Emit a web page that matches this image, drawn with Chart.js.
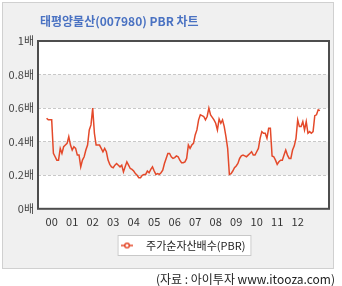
<!DOCTYPE html>
<html>
<head>
<meta charset="utf-8">
<script src="https://cdn.jsdelivr.net/npm/chart.js@4/dist/chart.umd.min.js"></script>
<style>
  body { margin: 0; background: #fff; }
  #wrap { width: 342px; height: 286px; }
</style>
</head>
<body>
<div id="wrap"><canvas id="pbrChart" width="342" height="286"></canvas></div>
<script>
// ---- data ----
const titleText = '태평양물산(007980) PBR 차트';
const sourceText = '(자료 : 아이투자 www.itooza.com)';
const seriesName = '주가순자산배수(PBR)';

// monthly PBR, starting 1999-10
const startYear = 1999;
const startMonth = 10;
const pbr = [
    0.54, 0.53, 0.53, 0.53, 0.33, 0.31, 0.29, 0.29, 0.36, 0.33,
    0.37, 0.38, 0.39, 0.43, 0.38, 0.35, 0.37, 0.36, 0.32, 0.32,
    0.25, 0.29, 0.31, 0.35, 0.38, 0.47, 0.50, 0.60, 0.45, 0.38,
    0.38, 0.38, 0.36, 0.34, 0.36, 0.34, 0.29, 0.265, 0.25, 0.245,
    0.26, 0.27, 0.26, 0.25, 0.26, 0.22, 0.25, 0.28, 0.26, 0.24,
    0.235, 0.225, 0.21, 0.20, 0.185, 0.185, 0.20, 0.205, 0.205, 0.225,
    0.215, 0.235, 0.25, 0.225, 0.205, 0.21, 0.205, 0.215, 0.23, 0.27,
    0.30, 0.33, 0.33, 0.31, 0.30, 0.305, 0.315, 0.31, 0.29, 0.275,
    0.275, 0.28, 0.30, 0.38, 0.36, 0.38, 0.39, 0.44, 0.47, 0.53,
    0.56, 0.555, 0.55, 0.53, 0.55, 0.60, 0.56, 0.545, 0.53, 0.51,
    0.47, 0.535, 0.51, 0.53, 0.49, 0.43, 0.36, 0.205, 0.21, 0.225,
    0.245, 0.255, 0.27, 0.30, 0.315, 0.32, 0.315, 0.31, 0.32, 0.33,
    0.34, 0.32, 0.32, 0.34, 0.36, 0.42, 0.46, 0.45, 0.45, 0.42,
    0.48, 0.48, 0.315, 0.31, 0.29, 0.265, 0.28, 0.29, 0.29, 0.32,
    0.35, 0.32, 0.30, 0.30, 0.35, 0.375, 0.42, 0.53, 0.49, 0.49,
    0.52, 0.47, 0.52, 0.45, 0.46, 0.45, 0.46, 0.555, 0.56, 0.59, 0.585
];

const years = [2000, 2001, 2002, 2003, 2004, 2005, 2006, 2007, 2008, 2009, 2010, 2011, 2012];
const xLabels = ['00', '01', '02', '03', '04', '05', '06', '07', '08', '09', '10', '11', '12'];
const yLabels = ['0배', '0.2배', '0.4배', '0.6배', '0.8배', '1배'];
const bands = [[0.2, 0.4], [0.6, 0.8]];

// ---- look ----
const lineColor = '#e4492a';
const fontFamily = '"Noto Sans CJK KR", "Noto Sans", sans-serif';
Chart.defaults.font.family = fontFamily;

const points = pbr.map((v, i) => ({ x: startYear + (startMonth - 1 + i) / 12, y: v }));

// legend marker: line with a hollow circle
const marker = document.createElement('canvas');
marker.width = 12;
marker.height = 8;
(function() {
    const m = marker.getContext('2d');
    m.strokeStyle = lineColor;
    m.lineWidth = 1.5;
    m.beginPath();
    m.moveTo(0, 4);
    m.lineTo(12, 4);
    m.stroke();
    m.beginPath();
    m.arc(6, 4, 2.3, 0, Math.PI * 2);
    m.fillStyle = '#fff';
    m.fill();
    m.stroke();
})();

const framePlugin = {
    id: 'frame',
    afterLayout(chart) {
        // nudge the legend a little left, like the original
        chart.legend.left -= 4;
        chart.legend.right -= 4;
    },
    beforeDraw(chart) {
        const ctx = chart.ctx;
        const { left, top, right, bottom } = chart.chartArea;
        const y = chart.scales.y;
        ctx.save();
        // panel
        ctx.fillStyle = '#f0f0f0';
        ctx.fillRect(2, 2, 331, 266);
        ctx.strokeStyle = '#d0d0d0';
        ctx.lineWidth = 1;
        ctx.strokeRect(2.5, 2.5, 331, 266);
        // plot area + bands
        ctx.fillStyle = '#fff';
        ctx.fillRect(left, top, right - left, bottom - top);
        ctx.fillStyle = '#f0f0f0';
        bands.forEach(b => {
            const y1 = y.getPixelForValue(b[1]);
            const y0 = y.getPixelForValue(b[0]);
            ctx.fillRect(left, y1, right - left, y0 - y1);
        });
        // title
        ctx.font = 'bold 12px ' + fontFamily;
        ctx.fillStyle = '#4a72c2';
        ctx.textBaseline = 'middle';
        ctx.textAlign = 'left';
        ctx.fillText(titleText, 40, 21);
        // source
        ctx.font = '12px ' + fontFamily;
        ctx.fillStyle = '#222';
        ctx.textAlign = 'right';
        ctx.fillText(sourceText, 335, 279);
        // legend box
        const hb = chart.legend.legendHitBoxes[0];
        if (hb) {
            ctx.fillStyle = '#fff';
            ctx.fillRect(hb.left + 4, hb.top - 5, hb.width + 2, hb.height + 10);
            ctx.strokeStyle = '#c8c8c8';
            ctx.strokeRect(hb.left + 4.5, hb.top - 4.5, hb.width + 1, hb.height + 9);
        }
        ctx.restore();
    },
    afterDraw(chart) {
        const ctx = chart.ctx;
        const { left, top, right, bottom } = chart.chartArea;
        ctx.save();
        ctx.strokeStyle = '#4d4d4d';
        ctx.lineWidth = 2;
        ctx.strokeRect(left, top, right - left, bottom - top);
        ctx.restore();
    }
};

new Chart(document.getElementById('pbrChart'), {
    type: 'line',
    data: {
        datasets: [{
            label: seriesName,
            data: points,
            borderColor: lineColor,
            backgroundColor: lineColor,
            borderWidth: 1.5,
            pointRadius: 0,
            pointStyle: marker,
            tension: 0
        }]
    },
    options: {
        responsive: false,
        animation: false,
        events: [],
        layout: { padding: { left: 0, right: 13, top: 41, bottom: 25 } },
        scales: {
            x: {
                type: 'linear',
                min: 1999.332,
                max: 2013.527,
                afterBuildTicks: scale => { scale.ticks = years.map(v => ({ value: v })); },
                ticks: {
                    autoSkip: false,
                    maxRotation: 0,
                    padding: 6,
                    color: '#333',
                    font: { size: 11 },
                    callback: v => xLabels[years.indexOf(v)]
                },
                grid: { display: false, drawTicks: false },
                border: { display: false }
            },
            y: {
                min: 0,
                max: 1,
                afterFit: scale => { scale.width = 38; },
                ticks: {
                    stepSize: 0.2,
                    padding: 4,
                    color: '#444',
                    font: { size: 11 },
                    callback: v => yLabels[Math.round(v * 5)]
                },
                grid: {
                    drawTicks: false,
                    color: c => (c.tick && (c.tick.value === 0 || c.tick.value === 1)) ? 'rgba(0,0,0,0)' : '#c8c8c8'
                },
                border: { display: false, dash: [3, 2] }
            }
        },
        plugins: {
            tooltip: { enabled: false },
            legend: {
                position: 'bottom',
                fullSize: false,
                labels: {
                    usePointStyle: true,
                    pointStyleWidth: 27,
                    padding: 6,
                    color: '#222',
                    font: { size: 11 }
                }
            }
        }
    },
    plugins: [framePlugin]
});
</script>
</body>
</html>
